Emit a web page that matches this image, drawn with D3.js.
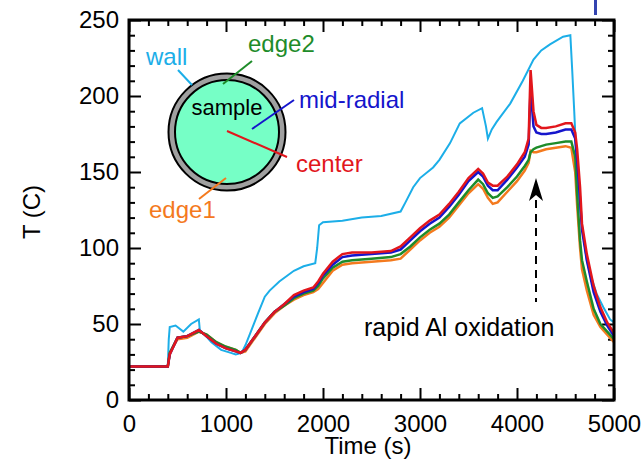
<!DOCTYPE html>
<html>
<head>
<meta charset="utf-8">
<script src="https://cdn.jsdelivr.net/npm/d3@7"></script>
<style>
  body { margin: 0; background: #fff; }
  svg text { font-family: "Liberation Sans", Arial, sans-serif; }
</style>
</head>
<body>
<svg id="chart" width="643" height="460"></svg>
<script>
// ---------- data ----------
const wallTime = [0,400,410,420,480,560,640,720,730,780,850,950,1050,1100,1160,1200,1250,1330,1400,1450,1550,1700,1800,1920,1940,1960,2000,2200,2400,2600,2800,2850,2930,3000,3135,3200,3310,3410,3550,3640,3680,3700,3740,3790,3930,4060,4170,4250,4340,4475,4550,4570,4590,4610,4640,4680,4720,4750,4820,4890,4960,5000];
const wallTemp = [22,22,40,48,49,45,50,53,46,43,38,33,31,30,31,36,44,57,68,72,78,85,88,90,100,115,117,118,120,121,124,130,140,146,153,158,169,182,189,192,180,172,178,183,195,210,224,230,234,239,240,216,190,162,132,110,92,84,70,61,53,51];

const coreTime = [0,400,420,500,600,720,800,900,1000,1100,1150,1200,1300,1400,1500,1600,1700,1800,1900,1950,2000,2100,2200,2300,2500,2700,2800,2900,3000,3100,3200,3300,3400,3500,3600,3650,3700,3750,3800,3900,4000,4080,4120,4140,4170,4200,4250,4300,4400,4500,4560,4600,4620,4650,4670,4720,4790,4860,4930,5000];
const centerTemp = [22,22,30,41,42,46,42,37,34,32,31,33,42,51,58,63,69,72,74,78,83,91,96,97,97,98,101,107,113,118,122,129,137,146,152,149,143,141,141,147,155,163,172,217,190,181,179,179,180,182,182,176,165,140,116,96,75,61,51,44];
const midTemp    = [22,22,30,41,42,46,42,37,34,32,31,33,42,51,58,63,68,71,73,77,82,89,94,95,96,97,99,105,111,116,120,127,135,144,150,147,141,138,138,145,153,160,168,205,180,176,175,175,176,178,178,172,158,132,112,92,71,58,49,42];
const edge2Temp  = [22,22,31,41,42,45,43,38,35,33,31,33,42,51,58,62,67,70,72,75,80,87,91,92,93,94,96,101,107,112,116,122,130,138,145,142,136,133,134,140,147,154,158,163,165,166,167,168,169,170,170,160,135,105,92,78,60,50,45,40];
const edge1Temp  = [22,22,31,40,41,45,43,38,35,33,31,32,41,50,57,62,66,69,71,73,77,85,89,90,91,92,93,99,105,110,114,120,128,136,142,139,133,129,130,137,144,151,156,164,163,163,164,165,166,167,166,150,128,100,86,72,56,48,43,38];

const xMajor = [0,1000,2000,3000,4000,5000];
const yMajor = [0,50,100,150,200,250];

// ---------- layout ----------
const svg = d3.select("#chart");
const x = d3.scaleLinear().domain([0,5000]).range([129,614]);
const y = d3.scaleLinear().domain([0,250]).range([400,20]);

const xMinor = d3.range(0,5001,200).filter(v => v % 1000 !== 0);
const yMinor = d3.range(0,251,10).filter(v => v % 50 !== 0);

function styleAxis(g){
  g.select(".domain").remove();
  g.selectAll("line").attr("stroke","#000").attr("stroke-width",2);
  g.selectAll("text").attr("font-size",24).attr("fill","#000").attr("font-family","Liberation Sans, Arial, sans-serif");
}

// bottom
svg.append("g").attr("transform","translate(0,400)")
  .call(d3.axisBottom(x).tickValues(xMajor).tickFormat(d3.format("d")).tickSize(-12).tickPadding(15)).call(styleAxis);
svg.append("g").attr("transform","translate(0,400)")
  .call(d3.axisBottom(x).tickValues(xMinor).tickFormat("").tickSize(-6)).call(styleAxis);
// top
svg.append("g").attr("transform","translate(0,20)")
  .call(d3.axisTop(x).tickValues(xMajor).tickFormat("").tickSize(-12)).call(styleAxis);
svg.append("g").attr("transform","translate(0,20)")
  .call(d3.axisTop(x).tickValues(xMinor).tickFormat("").tickSize(-6)).call(styleAxis);
// left
svg.append("g").attr("transform","translate(129,0)")
  .call(d3.axisLeft(y).tickValues(yMajor).tickFormat(d3.format("d")).tickSize(-12).tickPadding(10)).call(styleAxis);
svg.append("g").attr("transform","translate(129,0)")
  .call(d3.axisLeft(y).tickValues(yMinor).tickFormat("").tickSize(-6)).call(styleAxis);
// right
svg.append("g").attr("transform","translate(614,0)")
  .call(d3.axisRight(y).tickValues(yMajor).tickFormat("").tickSize(-12)).call(styleAxis);
svg.append("g").attr("transform","translate(614,0)")
  .call(d3.axisRight(y).tickValues(yMinor).tickFormat("").tickSize(-6)).call(styleAxis);

// ---------- lines ----------
const line = d3.line().x(d => x(d[0])).y(d => y(d[1])).curve(d3.curveLinear);
const series = [
  {t: wallTime, v: wallTemp,  color: "#1CAEE8", w: 2},
  {t: coreTime, v: edge1Temp, color: "#F47A1E", w: 2.5},
  {t: coreTime, v: edge2Temp, color: "#1E8C2A", w: 2.5},
  {t: coreTime, v: midTemp,   color: "#1515CC", w: 2.5},
  {t: coreTime, v: centerTemp,color: "#E2161C", w: 2.5}
];
series.forEach(s => {
  svg.append("path")
    .datum(s.t.map((t,i) => [t, s.v[i]]))
    .attr("d", line).attr("fill","none")
    .attr("stroke", s.color).attr("stroke-width", s.w)
    .attr("stroke-linejoin","miter");
});

// frame
svg.append("rect").attr("x",129).attr("y",20).attr("width",485).attr("height",380)
  .attr("fill","none").attr("stroke","#000").attr("stroke-width",3);

// axis titles
svg.append("text").attr("x",368).attr("y",454).attr("text-anchor","middle")
  .attr("font-size",24).text("Time (s)");
svg.append("text").attr("transform","translate(40,212) rotate(-90)").attr("text-anchor","middle")
  .attr("font-size",24).text("T (C)");

// ---------- inset diagram ----------
const cx = 227, cy = 132;
svg.append("circle").attr("cx",cx).attr("cy",cy).attr("r",58.5)
  .attr("fill","#A0A0A0").attr("stroke","#000").attr("stroke-width",2);
svg.append("circle").attr("cx",cx).attr("cy",cy).attr("r",52)
  .attr("fill","#76FFC6").attr("stroke","#000").attr("stroke-width",2);
svg.append("text").attr("x",cx).attr("y",115).attr("text-anchor","middle")
  .attr("font-size",22).attr("fill","#000").text("sample");

const labels = [
  {text:"wall",       color:"#1CAEE8", tx:146, ty:65,  l:[178,70,192,85]},
  {text:"edge2",      color:"#1E8C2A", tx:248, ty:52,  l:[252,61,223,84]},
  {text:"mid-radial", color:"#1515CC", tx:299, ty:108, l:[294,100,252,129]},
  {text:"center",     color:"#E2161C", tx:296, ty:172, l:[227,131,287,157]},
  {text:"edge1",      color:"#F47A1E", tx:149, ty:218, l:[226,178,199,199]}
];
labels.forEach(d => {
  svg.append("line").attr("x1",d.l[0]).attr("y1",d.l[1]).attr("x2",d.l[2]).attr("y2",d.l[3])
    .attr("stroke",d.color).attr("stroke-width",2);
  svg.append("text").attr("x",d.tx).attr("y",d.ty).attr("font-size",24)
    .attr("fill",d.color).text(d.text);
});

// ---------- annotation ----------
svg.append("line").attr("x1",536).attr("y1",200).attr("x2",536).attr("y2",302)
  .attr("stroke","#000").attr("stroke-width",2).attr("stroke-dasharray","8,6");
svg.append("path").attr("d","M536,178 L543,201 L536,195 L529,201 Z").attr("fill","#000");
svg.append("text").attr("x",364).attr("y",336).attr("font-size",25).attr("fill","#000")
  .text("rapid Al oxidation");

// small clipped mark at top right
svg.append("rect").attr("x",594).attr("y",0).attr("width",3).attr("height",15).attr("fill","#3444B0");
</script>
</body>
</html>
